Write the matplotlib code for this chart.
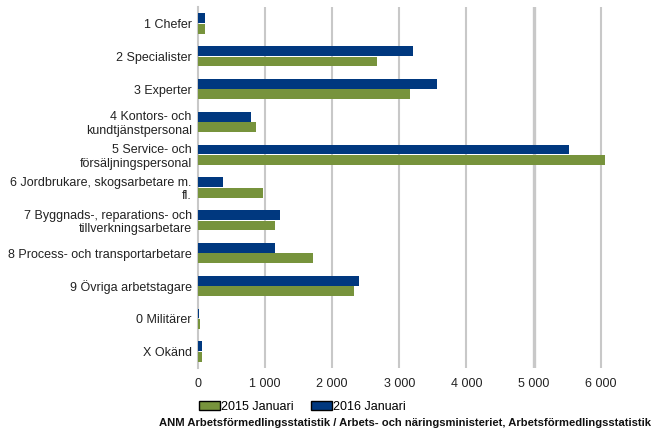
import numpy as np
import matplotlib.pyplot as plt
from matplotlib.patches import Patch

plt.rcParams['font.family'] = ['Liberation Sans', 'DejaVu Sans']

# Yrkesgrupper, uppifrån och ned
categories = [
    '1 Chefer',
    '2 Specialister',
    '3 Experter',
    '4 Kontors- och\nkundtjänstpersonal',
    '5 Service- och\nförsäljningspersonal',
    '6 Jordbrukare, skogsarbetare m.\nfl.',
    '7 Byggnads-, reparations- och\ntillverkningsarbetare',
    '8 Process- och transportarbetare',
    '9 Övriga arbetstagare',
    '0 Militärer',
    'X Okänd',
]
jan_2015 = [100, 2670, 3160, 865, 6065, 970, 1150, 1715, 2325, 25, 55]
jan_2016 = [100, 3200, 3560, 790, 5530, 370, 1220, 1145, 2400, 15, 60]
xticks = [0, 1000, 2000, 3000, 4000, 5000, 6000]

green = '#77933c'
blue = '#00387f'
fs = 9.0

fig = plt.figure(figsize=(6.53, 4.32), dpi=100)
ax = fig.add_axes([198 / 653, 1 - 368 / 432, 1 - 198 / 653, (368 - 7) / 432])

y = np.arange(len(categories))
h = 0.3
ax.barh(y - 0.16, jan_2016, height=h, color=blue, zorder=3)
ax.barh(y + 0.16, jan_2015, height=h, color=green, zorder=3)

ax.set_ylim(len(categories) - 0.5, -0.5)
ax.set_xlim(0, 6780)
ax.set_yticks(y)
ax.set_yticklabels(categories, fontsize=fs, color='#222222', linespacing=1.15)
ax.set_xticks(xticks)
ax.set_xticklabels([f'{v:,}'.replace(',', ' ') for v in xticks], fontsize=fs, color='#222222')
ax.tick_params(axis='both', length=0)
ax.tick_params(axis='y', pad=4.5)
ax.tick_params(axis='x', pad=7)

for v in xticks[1:]:
    ax.axvline(v, color='#c8c8c8', lw=2.4 if v == 5000 else 1.5, zorder=1)
for s in ['top', 'right', 'bottom']:
    ax.spines[s].set_visible(False)
ax.spines['left'].set_color('#c8c8c8')
ax.spines['left'].set_linewidth(1.5)

handles = [Patch(facecolor=green, edgecolor='black', label='2015 Januari'),
           Patch(facecolor=blue, edgecolor='black', label='2016 Januari')]
fig.legend(handles=handles, loc='center left', bbox_to_anchor=(199 / 653, 1 - 407 / 432),
           ncol=2, frameon=False, fontsize=fs, handlelength=1.7, handleheight=0.7,
           handletextpad=0.05, columnspacing=1.4, borderaxespad=0, borderpad=0)

fig.text(651 / 653, 1 - 423 / 432,
         'ANM Arbetsförmedlingsstatistik / Arbets- och näringsministeriet, Arbetsförmedlingsstatistik',
         ha='right', va='center', fontsize=8.1, fontweight='bold', color='#111111')

fig.savefig('out.png', dpi=100)
